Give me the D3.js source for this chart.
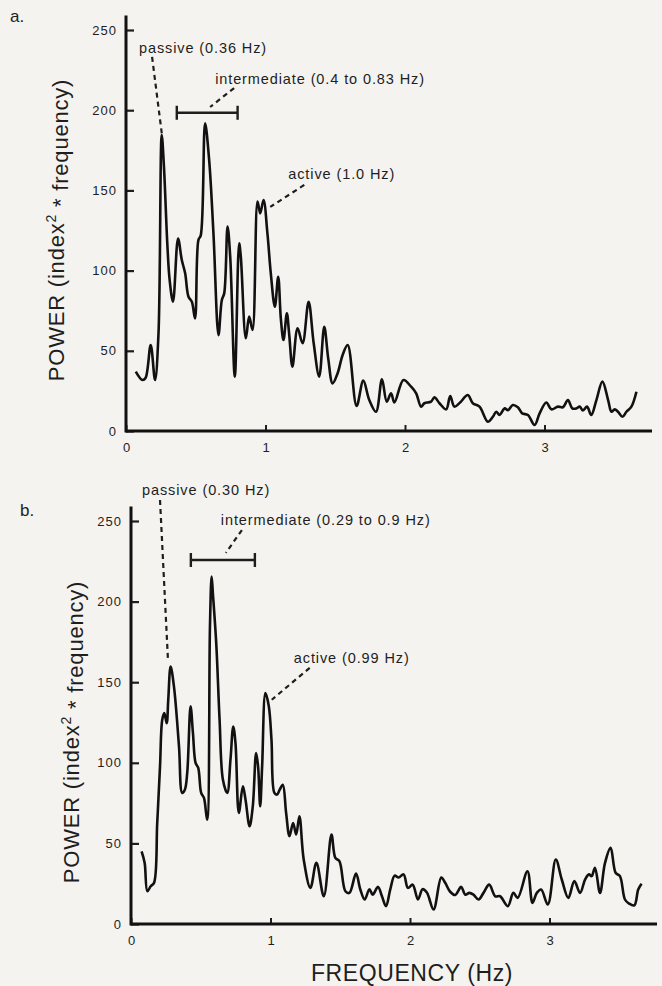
<!DOCTYPE html>
<html>
<head>
<meta charset="utf-8">
<script src="https://cdn.jsdelivr.net/npm/d3@7"></script>
<style>
    body { margin: 0; background: #f5f3f0; }
    svg { display: block; }
    text { font-family: "Liberation Sans", Arial, Helvetica, sans-serif; fill: #1e1e1e; }
</style>
</head>
<body>
<div id="chart"></div>
<script>
// panel a. — spectrum
var freqA = [0.070, 0.117, 0.140, 0.177, 0.208, 0.233, 0.256, 0.272, 0.296, 0.313, 0.337, 0.373, 0.400, 0.424,
    0.448, 0.472, 0.495, 0.519, 0.536, 0.567, 0.596, 0.627, 0.663, 0.687, 0.704, 0.728, 0.747, 0.780, 0.811,
    0.823, 0.859, 0.883, 0.907, 0.943, 0.962, 0.986, 1.014, 1.038, 1.067, 1.091, 1.110, 1.129, 1.153, 1.170,
    1.193, 1.230, 1.266, 1.309, 1.345, 1.385, 1.421, 1.450, 1.481, 1.517, 1.553, 1.589, 1.653, 1.701, 1.744,
    1.792, 1.835, 1.869, 1.900, 1.924, 1.989, 2.044, 2.080, 2.115, 2.139, 2.187, 2.211, 2.247, 2.295, 2.324,
    2.354, 2.395, 2.450, 2.486, 2.534, 2.594, 2.630, 2.654, 2.678, 2.714, 2.738, 2.773, 2.809, 2.840, 2.881,
    2.929, 2.965, 3.013, 3.049, 3.097, 3.132, 3.168, 3.199, 3.228, 3.252, 3.276, 3.305, 3.335, 3.372, 3.415,
    3.456, 3.480, 3.503, 3.527, 3.559, 3.587, 3.623, 3.659];
var powerA = [37, 31.8, 33, 53.6, 31.8, 60.9, 184.5, 164.8, 117, 94, 80.6, 120, 106.6, 98.3,
    83.7, 80.6, 70.2, 119, 122, 191.8, 169, 123, 59.8, 81.7, 85.8, 127.4, 108.7, 33.9, 117,
    108.7, 57.8, 71.3, 63, 143, 135.7, 144, 123, 98.3, 77.5, 96.2, 70, 56.7, 73.4, 60,
    40.1, 64, 54.7, 80.6, 55, 33.9, 64.9, 45, 29.7, 36, 47.4, 53.6, 15.6, 31.4, 19.3,
    12, 32.2, 18.3, 23.5, 17.8, 31.8, 27.6, 23.5, 15.2, 17.3, 18.3, 21, 17.3, 13.5, 21.8,
    15.2, 17.8, 22.4, 17.3, 15.2, 5.8, 8.9, 12, 10, 14.1, 13, 16.2, 14.8, 11, 10,
    3.7, 11, 17.8, 13.5, 15.2, 14.8, 19.3, 14.1, 14.1, 15.2, 12.8, 15.2, 10, 19.3, 30.8,
    19.3, 12, 13.5, 12, 8.9, 12, 15.2, 24.5];

// panel b.
var freqB = [0.076, 0.098, 0.117, 0.141, 0.165, 0.188, 0.208, 0.224, 0.239, 0.256, 0.267, 0.284, 0.308, 0.344,
    0.367, 0.386, 0.403, 0.427, 0.444, 0.463, 0.482, 0.503, 0.523, 0.546, 0.566, 0.578, 0.587, 0.611, 0.635,
    0.659, 0.690, 0.713, 0.733, 0.749, 0.773, 0.802, 0.821, 0.850, 0.873, 0.897, 0.911, 0.926, 0.940, 0.964,
    0.988, 1.007, 1.028, 1.047, 1.066, 1.088, 1.112, 1.136, 1.162, 1.184, 1.207, 1.238, 1.286, 1.329, 1.382,
    1.437, 1.465, 1.494, 1.537, 1.566, 1.613, 1.644, 1.675, 1.709, 1.732, 1.771, 1.799, 1.828, 1.859, 1.890,
    1.918, 1.954, 1.985, 2.019, 2.057, 2.090, 2.121, 2.169, 2.224, 2.252, 2.288, 2.324, 2.367, 2.396, 2.425,
    2.455, 2.491, 2.527, 2.568, 2.611, 2.646, 2.701, 2.741, 2.772, 2.842, 2.878, 2.909, 2.940, 2.988, 3.045,
    3.088, 3.135, 3.178, 3.219, 3.255, 3.283, 3.302, 3.326, 3.362, 3.398, 3.438, 3.474, 3.505, 3.541, 3.570,
    3.608, 3.636, 3.660];
var powerB = [45.1, 37.9, 20.3, 23.4, 25.5, 62.7, 97.8, 126.7, 130.8, 124.6, 139, 159.7, 147.3, 110.2,
    81.3, 83.3, 93.7, 135, 118.5, 99.9, 96.8, 81.3, 78.2, 64.7, 184.5, 215.5, 205, 174.2, 126.7,
    89.5, 81.3, 101.9, 122.5, 112.2, 68.9, 85.4, 77.1, 60.6, 73, 106, 97.8, 73, 97.8, 143.2,
    135, 114.3, 81.3, 80.3, 83.3, 86.4, 68.9, 54.4, 62.7, 55.5, 66.8, 40, 22.4, 37.9, 17.2,
    55.5, 41, 39, 20.3, 19.3, 31.3, 21.4, 15.2, 21.6, 18.2, 23, 17.2, 11, 21.6, 30,
    28.8, 30.8, 22.4, 24.4, 15.2, 21.6, 19.5, 9, 28.8, 25.6, 20, 18, 23, 18.2, 19.3,
    18.2, 15.2, 19.3, 24.4, 17.2, 17.2, 11, 19.3, 16.2, 32.7, 13.1, 19.3, 21.4, 12.1, 40,
    27.6, 16.2, 26.6, 19.3, 27.6, 30.8, 29.7, 34.9, 19.3, 37.9, 47.2, 31.8, 29.7, 15.2, 12.7,
    11.6, 21.4, 25];

var yTicks = [0, 50, 100, 150, 200, 250];
var xTicks = [0, 1, 2, 3];
var panelLetters = ["a.", "b."];
var yTitle = "POWER (index";
var yTitleEnd = " * frequency)";
var xTitle = "FREQUENCY (Hz)";

// annotations, anchored in data units: text (x, y), leader from -> to
var notesA = [
    { text: "passive (0.36 Hz)", tx: 0.093, ty: 235.7, x1: 0.187, y1: 233.2, x2: 0.258, y2: 184.5 },
    { text: "intermediate (0.4 to 0.83 Hz)", tx: 0.639, ty: 216.3, x1: 0.775, y1: 213.8, x2: 0.603, y2: 202 },
    { text: "active (1.0 Hz)", tx: 1.163, ty: 157.1, x1: 1.278, y1: 153.4, x2: 1.034, y2: 139.7 }
];
var bracketA = { from: 0.364, to: 0.80, level: 198.4 };
var notesB = [
    { text: "passive (0.30 Hz)", tx: 0.079, ty: 266.1, x1: 0.208, y1: 263, x2: 0.265, y2: 163.9 },
    { text: "intermediate (0.29 to 0.9 Hz)", tx: 0.644, ty: 247.5, x1: 0.795, y1: 244.4, x2: 0.680, y2: 230.2 },
    { text: "active (0.99 Hz)", tx: 1.167, ty: 162, x1: 1.281, y1: 158.9, x2: 1.009, y2: 139.1 }
];
var bracketB = { from: 0.429, to: 0.888, level: 225.8 };

var width = 662, height = 986;
var svg = d3.select("#chart").append("svg")
    .attr("width", width)
    .attr("height", height);

svg.append("rect").attr("width", width).attr("height", height).attr("fill", "#f5f3f0");

var panels = [
    { freq: freqA, power: powerA, notes: notesA, bracket: bracketA, x0: 126, x1: 652, top: 30, base: 431,
      letterX: 10, letterY: 22, titleX: 56, titleY: 230 },
    { freq: freqB, power: powerB, notes: notesB, bracket: bracketB, x0: 131, x1: 657, top: 521, base: 924,
      letterX: 20, letterY: 516, titleX: 71, titleY: 732 }
];

panels.forEach(function (p, k) {
    // 1 Hz is ~139.5 px in both panels
    var x = d3.scaleLinear().domain([0, (p.x1 - p.x0) / 139.5]).range([p.x0, p.x1]);
    var y = d3.scaleLinear().domain([0, 250]).range([p.base, p.top]);
    var g = svg.append("g");

    var yAxis = d3.axisLeft(y).tickValues(yTicks).tickSizeInner(-8).tickSizeOuter(0).tickPadding(9);
    var gy = g.append("g").attr("transform", "translate(" + p.x0 + ",0)").call(yAxis);
    gy.select(".domain").remove();
    gy.selectAll(".tick line").attr("stroke", "#1e1e1e").attr("stroke-width", 2.2);
    gy.selectAll(".tick text").style("font-size", "13px").style("letter-spacing", "1px").attr("fill", "#1e1e1e");

    var xAxis = d3.axisBottom(x).tickValues(xTicks).tickFormat(d3.format("d"))
        .tickSizeInner(-6).tickSizeOuter(0).tickPadding(12);
    var gx = g.append("g").attr("transform", "translate(0," + p.base + ")").call(xAxis);
    gx.select(".domain").remove();
    gx.selectAll(".tick line").attr("stroke", "#1e1e1e").attr("stroke-width", 2);
    gx.selectAll(".tick text").style("font-size", "13px").attr("fill", "#1e1e1e");

    // axis lines (y axis runs a little past 250)
    g.append("line")
        .attr("x1", x(0)).attr("x2", x(0))
        .attr("y1", y(0) + 1.5).attr("y2", y(259))
        .attr("stroke", "#111").attr("stroke-width", 3);
    g.append("line")
        .attr("x1", x(0)).attr("x2", p.x1)
        .attr("y1", y(0)).attr("y2", y(0))
        .attr("stroke", "#111").attr("stroke-width", 3);

    var pts = p.freq.map(function (f, i) { return [f, p.power[i]]; });
    var line = d3.line()
        .x(function (d) { return x(d[0]); })
        .y(function (d) { return y(d[1]); })
        .curve(d3.curveCatmullRom.alpha(0.5));
    g.append("path")
        .attr("d", line(pts))
        .attr("fill", "none")
        .attr("stroke", "#111")
        .attr("stroke-width", 2.6)
        .attr("stroke-linejoin", "round");

    // annotations
    p.notes.forEach(function (n) {
        g.append("line")
            .attr("x1", x(n.x1)).attr("y1", y(n.y1))
            .attr("x2", x(n.x2)).attr("y2", y(n.y2))
            .attr("stroke", "#1e1e1e").attr("stroke-width", 2.2)
            .attr("stroke-dasharray", "5,4");
        g.append("text")
            .attr("x", x(n.tx)).attr("y", y(n.ty))
            .style("font-size", "14.5px")
            .style("letter-spacing", "0.9px")
            .text(n.text);
    });
    var b = p.bracket;
    g.append("line")
        .attr("x1", x(b.from)).attr("x2", x(b.to))
        .attr("y1", y(b.level)).attr("y2", y(b.level))
        .attr("stroke", "#1e1e1e").attr("stroke-width", 2.4);
    [b.from, b.to].forEach(function (v) {
        g.append("line")
            .attr("x1", x(v)).attr("x2", x(v))
            .attr("y1", y(b.level) - 7).attr("y2", y(b.level) + 7)
            .attr("stroke", "#1e1e1e").attr("stroke-width", 2.4);
    });

    g.append("text")
        .attr("x", p.letterX).attr("y", p.letterY)
        .style("font-size", "17px")
        .text(panelLetters[k]);

    var t = g.append("text")
        .attr("transform", "translate(" + p.titleX + "," + p.titleY + ") rotate(-90)")
        .attr("text-anchor", "middle")
        .attr("dy", "0.35em")
        .style("font-size", "22px")
        .style("letter-spacing", "0.8px");
    t.append("tspan").text(yTitle);
    t.append("tspan").attr("dy", "-0.55em").style("font-size", "14px").text("2");
    t.append("tspan").attr("dy", "0.55em").text(yTitleEnd);
});

svg.append("text")
    .attr("x", 412).attr("y", 981)
    .attr("text-anchor", "middle")
    .style("font-size", "23px")
    .style("letter-spacing", "0.6px")
    .text(xTitle);
</script>
</body>
</html>
